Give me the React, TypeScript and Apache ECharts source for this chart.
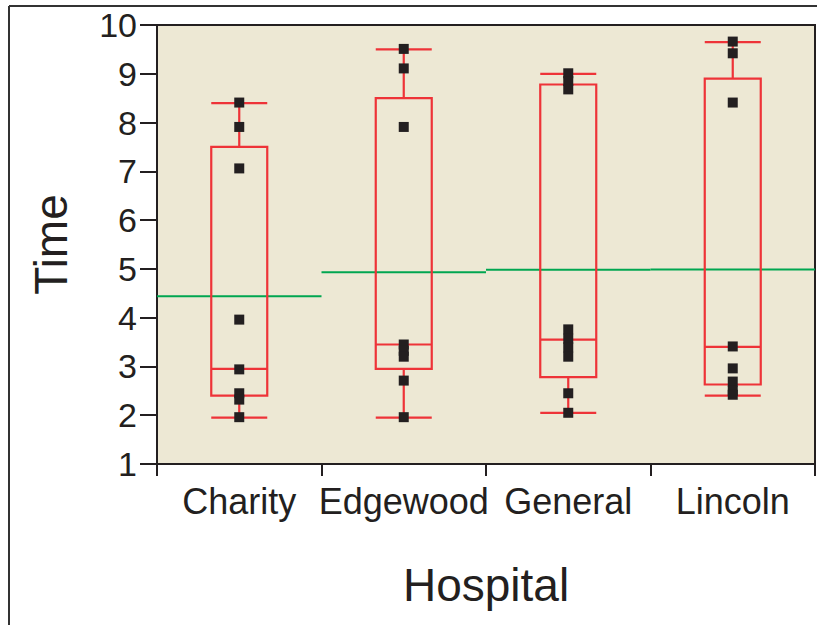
import React, { useEffect, useRef } from "react";
import * as echarts from "echarts";

const categories = ["Charity", "Edgewood", "General", "Lincoln"];

// [min, Q1, median, Q3, max]
const charityBox = [1.95, 2.4, 2.95, 7.5, 8.4];
const edgewoodBox = [1.95, 2.95, 3.45, 8.5, 9.5];
const generalBox = [2.05, 2.78, 3.55, 8.78, 9.0];
const lincolnBox = [2.4, 2.63, 3.4, 8.9, 9.65];

const charityPoints = [8.41, 7.91, 7.06, 3.96, 2.94, 2.45, 2.32, 1.96];
const edgewoodPoints = [9.51, 9.11, 7.91, 3.45, 3.32, 3.2, 2.71, 1.96];
const generalPoints = [9.01, 8.85, 8.68, 3.76, 3.57, 3.39, 3.2, 2.45, 2.05];
const lincolnPoints = [9.66, 9.42, 8.41, 3.41, 2.96, 2.69, 2.5, 2.42];

const means = [4.44, 4.93, 4.98, 4.99];

const yMin = 1;
const yMax = 10;
const yInterval = 1;

const FONT = "'Liberation Sans', Arial, Helvetica, sans-serif";
const INK = "#231F20";
const RED = "#EE3338";
const GREEN = "#00A650";
const BG = "#EDE8D4";

export default function App() {
  const ref = useRef<HTMLDivElement>(null);

  useEffect(() => {
    if (!ref.current) return;
    const chart = echarts.init(ref.current, undefined, { renderer: "svg" });

    const boxes = [charityBox, edgewoodBox, generalBox, lincolnBox];
    const pointsByCat = [charityPoints, edgewoodPoints, generalPoints, lincolnPoints];
    const scatterData: [number, number][] = [];
    pointsByCat.forEach((pts, i) => pts.forEach((v) => scatterData.push([i, v])));

    const meanSeries = means.map((m, i) => ({
      type: "line",
      xAxisIndex: 1,
      data: [
        [i, m],
        [i + 1, m],
      ],
      symbol: "none",
      silent: true,
      lineStyle: { color: GREEN, width: 2 },
      z: 1,
    }));

    chart.setOption({
      animation: false,
      backgroundColor: "#ffffff",
      textStyle: { fontFamily: FONT },
      graphic: [
        {
          type: "line",
          shape: { x1: 9, y1: 6, x2: 9, y2: 625 },
          style: { stroke: "#333", lineWidth: 2 },
        },
        {
          type: "line",
          shape: { x1: 9, y1: 6, x2: 817, y2: 6 },
          style: { stroke: "#333", lineWidth: 2 },
        },
      ],
      grid: {
        left: 157,
        top: 25,
        right: 2,
        bottom: 161,
        show: true,
        backgroundColor: BG,
        borderColor: INK,
        borderWidth: 2,
      },
      xAxis: [
        {
          type: "category",
          data: categories,
          boundaryGap: true,
          name: "Hospital",
          nameLocation: "middle",
          nameGap: 98,
          nameTextStyle: { fontSize: 46, color: INK, fontFamily: FONT },
          axisLine: { show: true, lineStyle: { color: INK, width: 2 } },
          axisTick: {
            show: true,
            interval: 0,
            alignWithLabel: false,
            length: 12,
            lineStyle: { color: INK, width: 2 },
          },
          axisLabel: {
            interval: 0,
            hideOverlap: false,
            fontSize: 36,
            color: INK,
            margin: 19,
            fontFamily: FONT,
          },
          splitLine: { show: false },
        },
        {
          type: "value",
          min: 0,
          max: 4,
          show: false,
        },
      ],
      yAxis: {
        type: "value",
        min: yMin,
        max: yMax,
        interval: yInterval,
        name: "Time",
        nameLocation: "middle",
        nameGap: 83,
        nameTextStyle: { fontSize: 46, color: INK, fontFamily: FONT },
        axisLine: { show: true, lineStyle: { color: INK, width: 2 } },
        axisTick: { show: true, length: 17, lineStyle: { color: INK, width: 2 } },
        axisLabel: { fontSize: 34, color: INK, margin: 20, fontFamily: FONT },
        splitLine: { show: false },
      },
      series: [
        ...meanSeries,
        {
          type: "boxplot",
          xAxisIndex: 0,
          data: boxes,
          boxWidth: [56, 56],
          itemStyle: { color: "transparent", borderColor: RED, borderWidth: 2.2 },
          z: 2,
        },
        {
          type: "scatter",
          xAxisIndex: 0,
          data: scatterData,
          symbol: "rect",
          symbolSize: 10,
          itemStyle: { color: INK, opacity: 1 },
          z: 3,
        },
      ],
    });

    return () => chart.dispose();
  }, []);

  return (
    <div
      ref={ref}
      style={{ position: "fixed", left: 0, top: 0, width: 817, height: 625 }}
    />
  );
}
